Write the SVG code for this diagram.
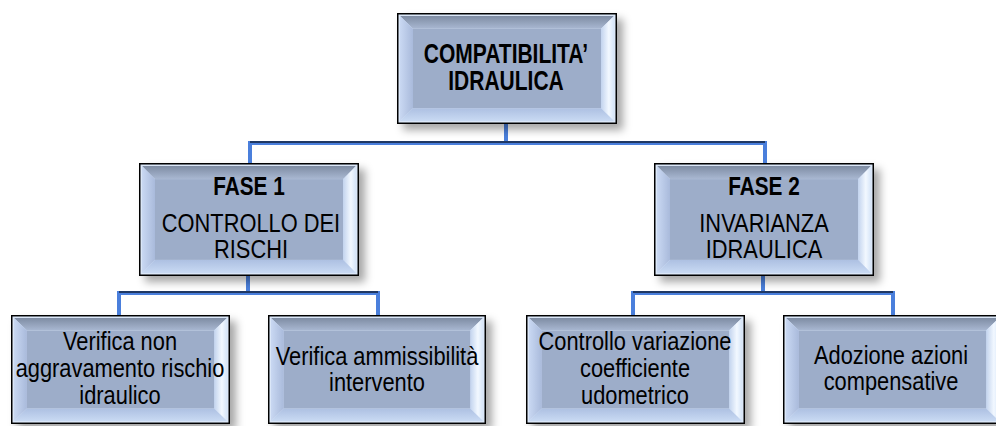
<svg xmlns="http://www.w3.org/2000/svg" xmlns:xlink="http://www.w3.org/1999/xlink" width="996" height="426" viewBox="0 0 996 426">
<style>
.t{font-family:"Liberation Sans",Arial,sans-serif;font-size:26px;fill:#000;text-anchor:middle}
.b{font-weight:bold}
.h{font-size:28px}
.ln{fill:none;stroke:#4a7fdc;stroke-width:4;stroke-linejoin:miter}
.dk{fill:none;stroke:#1f3864;stroke-width:2}
</style>
<defs>
<filter id="sh" x="-10%" y="-10%" width="125%" height="130%">
<feDropShadow dx="6" dy="6" stdDeviation="4" flood-color="#000" flood-opacity="0.35"/>
</filter>
<linearGradient id="gt" x1="0" y1="0" x2="0" y2="1"><stop offset="0" stop-color="#7e8ca3"/><stop offset="1" stop-color="#a9b8d2"/></linearGradient>
<linearGradient id="gl" x1="0" y1="0" x2="1" y2="0"><stop offset="0" stop-color="#c9d8f2"/><stop offset="1" stop-color="#a9badb"/></linearGradient>
<linearGradient id="gr" x1="0" y1="0" x2="1" y2="0"><stop offset="0" stop-color="#c2d3ee"/><stop offset="0.6" stop-color="#f2f8ff"/><stop offset="1" stop-color="#d6e5f8"/></linearGradient>
<linearGradient id="gb" x1="0" y1="0" x2="0" y2="1"><stop offset="0" stop-color="#adc0e2"/><stop offset="1" stop-color="#c9daf3"/></linearGradient>
<symbol id="bx" viewBox="0 0 220 112" preserveAspectRatio="none">
<rect x="0.75" y="0.75" width="218.5" height="110.5" fill="#dbe7f8" stroke="#000" stroke-width="1.5"/>
<polygon points="3,3 217,3 204,16 16,16" fill="url(#gt)"/>
<polygon points="3,3 16,16 16,96 3,109" fill="url(#gl)"/>
<polygon points="217,3 217,109 204,96 204,16" fill="url(#gr)"/>
<polygon points="3,109 217,109 204,96 16,96" fill="url(#gb)"/>
<rect x="16" y="16" width="188" height="80" fill="#9dadc9"/>
</symbol>
</defs>
<rect width="996" height="426" fill="#fff"/>

<g id="connectors">
<path class="ln" d="M506,124 V143 M250,163 V143 H765 V163"/>
<path class="dk" d="M250,142 H765"/>
<path class="ln" d="M248,276 V293 M119,315 V293 H378 V315"/>
<path class="dk" d="M119,292 H378"/>
<path class="ln" d="M763,276 V293 M633,315 V293 H893 V315"/>
<path class="dk" d="M633,292 H893"/>
</g>

<g id="n-compat">
<use xlink:href="#bx" x="397" y="13" width="220" height="111" filter="url(#sh)"/>
<text class="t b h" transform="translate(506,63) scale(0.75,1)">COMPATIBILITA’</text>
<text class="t b h" transform="translate(506,90) scale(0.75,1)">IDRAULICA</text>
</g>

<g id="n-fase1">
<use xlink:href="#bx" x="139" y="163" width="220" height="113" filter="url(#sh)"/>
<text class="t b" transform="translate(249,195) scale(0.8,1)">FASE 1</text>
<text class="t" transform="translate(251,232) scale(0.84,1)">CONTROLLO DEI</text>
<text class="t" transform="translate(251,258) scale(0.84,1)">RISCHI</text>
</g>

<g id="n-fase2">
<use xlink:href="#bx" x="654" y="163" width="220" height="113" filter="url(#sh)"/>
<text class="t b" transform="translate(764,195) scale(0.8,1)">FASE 2</text>
<text class="t" transform="translate(764,232) scale(0.84,1)">INVARIANZA</text>
<text class="t" transform="translate(764,258) scale(0.84,1)">IDRAULICA</text>
</g>

<g id="n-verifica1">
<use xlink:href="#bx" x="11" y="315" width="219" height="109" filter="url(#sh)"/>
<text class="t" transform="translate(120,350) scale(0.84,1)">Verifica non</text>
<text class="t" transform="translate(120,377) scale(0.84,1)">aggravamento rischio</text>
<text class="t" transform="translate(120,404) scale(0.84,1)">idraulico</text>
</g>

<g id="n-verifica2">
<use xlink:href="#bx" x="268" y="315" width="218" height="109" filter="url(#sh)"/>
<text class="t" transform="translate(377,365) scale(0.84,1)">Verifica ammissibilità</text>
<text class="t" transform="translate(377,391) scale(0.84,1)">intervento</text>
</g>

<g id="n-controllo">
<use xlink:href="#bx" x="526" y="315" width="219" height="109" filter="url(#sh)"/>
<text class="t" transform="translate(635,350) scale(0.84,1)">Controllo variazione</text>
<text class="t" transform="translate(635,377) scale(0.84,1)">coefficiente</text>
<text class="t" transform="translate(635,404) scale(0.84,1)">udometrico</text>
</g>

<g id="n-adozione">
<use xlink:href="#bx" x="783" y="315" width="219" height="109" filter="url(#sh)"/>
<text class="t" transform="translate(891,364) scale(0.84,1)">Adozione azioni</text>
<text class="t" transform="translate(891,390) scale(0.84,1)">compensative</text>
</g>
</svg>
